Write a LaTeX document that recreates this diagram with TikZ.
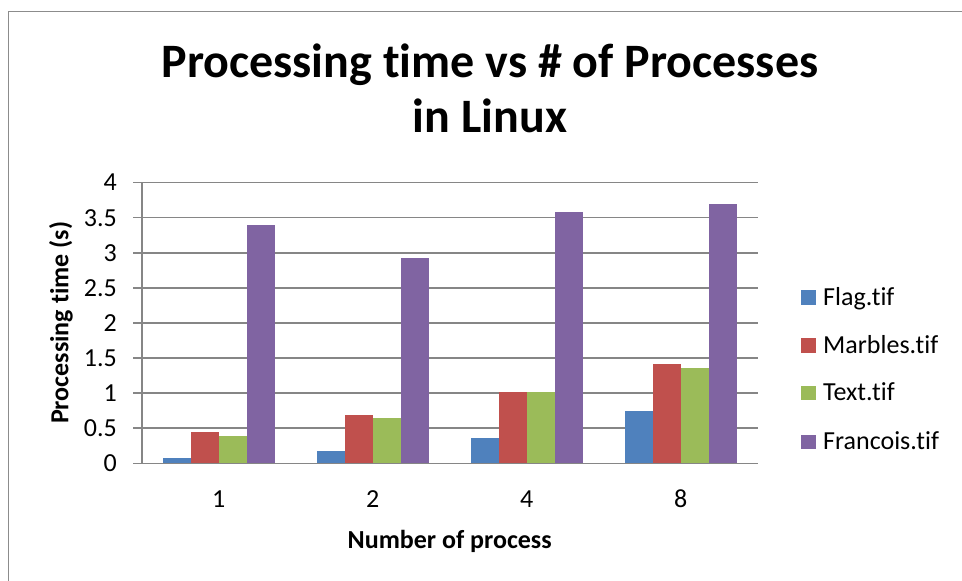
\documentclass[tikz,border=0pt]{standalone}
\usepackage{fontspec}
\setmainfont{Carlito}[Ligatures=NoCommon]
\definecolor{cflag}{HTML}{4F81BD}
\definecolor{cmarb}{HTML}{C0504D}
\definecolor{ctext}{HTML}{9BBB59}
\definecolor{cfran}{HTML}{8064A2}
\definecolor{cgrid}{HTML}{868686}
\definecolor{cframe}{HTML}{8C8C8C}
\tikzset{
  gridline/.style={draw=cgrid, line width=1.6pt},
  framel/.style={draw=cframe, line width=1.4pt},
  ticklbl/.style={inner sep=0pt, font=\fontsize{26}{31}\selectfont},
  axtitle/.style={inner sep=0pt, font=\fontsize{26}{31}\selectfont\bfseries},
  titlefont/.style={inner sep=0pt, font=\fontsize{48}{56}\selectfont\bfseries},
  legsq/.style={minimum size=14.5pt, inner sep=0pt, draw=none},
}
\begin{document}
\begin{tikzpicture}[x=1pt,y=-1pt]
\useasboundingbox (0,0) rectangle (962,581);
\fill[white] (0,0) rectangle (962,581);
\draw[framel] (8.7,581) -- (8.7,11.7) -- (962,11.7);
% gridlines
\foreach \v in {0,0.5,...,4.0} {
  \draw[gridline] (133,{463.3-70.2*\v}) -- (757.7,{463.3-70.2*\v});
}
% y axis
\draw[gridline] (141.7,182.3) -- (141.7,463.3);
% y tick labels
\foreach \v/\t in {0/0,0.5/0.5,1/1,1.5/1.5,2/2,2.5/2.5,3/3,3.5/3.5,4/4} {
  \node[ticklbl, anchor=base east] (yl\t) at (117,{463.3-70.2*\v+8.4}) {\t};
}
% bars
\foreach \s/\c/\vals in {0/cflag/{0.07,0.175,0.36,0.745},1/cmarb/{0.44,0.69,1.01,1.41},2/ctext/{0.39,0.645,1.01,1.36},3/cfran/{3.40,2.93,3.58,3.70}} {
  \foreach \val [count=\g from 0] in \vals {
    \fill[\c] ({141.7+154*\g+21+28*\s},463.3) rectangle ({141.7+154*\g+21+28*(\s+1)},{463.3-70.2*\val});
  }
}
% redraw x axis on top
\draw[gridline] (133,463.3) -- (757.7,463.3);
% category labels
\foreach \lab [count=\g from 0] in {1,2,4,8} {
  \node[ticklbl, anchor=base] (xl\lab) at ({141.7+154*\g+77},507) {\lab};
}
% axis titles
\node[axtitle, anchor=base] (xtitle) at (449.7,548) {Number of process};
\node[axtitle, rotate=90, anchor=center] (ytitle) at (61,322.8) {Processing time (s)};
% title
\node[titlefont, anchor=base] (title1) at (490,77.5) {Processing time vs \# of Processes};
\node[titlefont, anchor=base] (title2) at (490,132.5) {in Linux};
% legend
\foreach \c/\lab/\y [count=\i] in {cflag/Flag.tif/297.7,cmarb/Marbles.tif/345.5,ctext/Text.tif/393.2,cfran/Francois.tif/442} {
  \node[legsq, fill=\c] (lsq\i) at (808.3,\y) {};
  \node[ticklbl, anchor=base west] (ltx\i) at (823,{\y+7.6}) {\lab};
}
\end{tikzpicture}
\end{document}
